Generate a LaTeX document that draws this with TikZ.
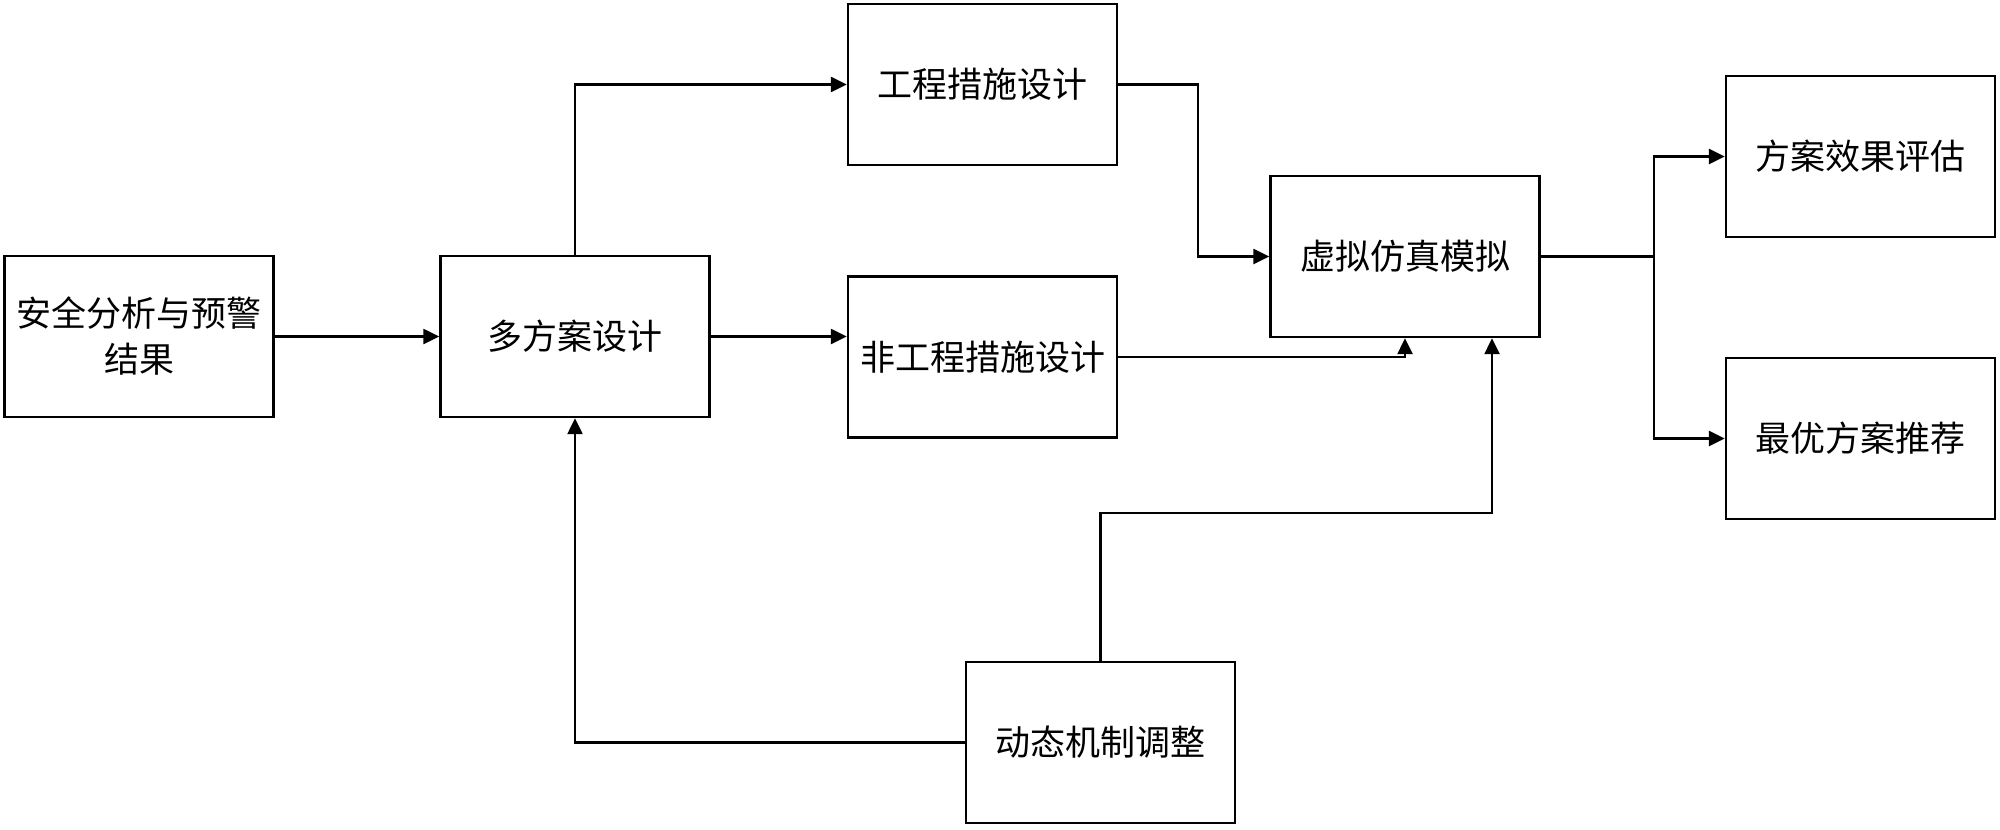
\documentclass[tikz,border=0pt]{standalone}
\usepackage{fontspec}
\setmainfont{Noto Sans CJK SC}
\usetikzlibrary{arrows.meta,calc}
\begin{document}
\begin{tikzpicture}[x=0.5pt,y=-0.5pt,
  box/.style={draw,line width=1.2pt,minimum width=134.5pt,minimum height=80.5pt,inner sep=0pt,align=center,font=\fontsize{17.5pt}{23pt}\selectfont},
  conn/.style={line width=1.2pt},
  arr/.style={line width=1.2pt,-{Triangle[length=8pt,width=7.5pt]}}]
\useasboundingbox (0,0) rectangle (2000,829);
\node[box] (b1) at (139,336.5) {安全分析与预警\\结果};
\node[box] (b2) at (575,336.5) {多方案设计};
\node[box] (b3) at (982.5,84.5) {工程措施设计};
\node[box] (b4) at (982.5,357) {非工程措施设计};
\node[box] (b5) at (1405,256.5) {虚拟仿真模拟};
\node[box] (b6) at (1860.5,156.5) {方案效果评估};
\node[box] (b7) at (1860.5,438.5) {最优方案推荐};
\node[box] (b8) at (1100.5,742.5) {动态机制调整};
\draw[arr] (b1) -- (b2);
\draw[arr] (b2.north) |- (b3.west);
\draw[arr] (b2.east) -- (b2.east -| b4.west);
\draw[arr] (b3.east) -- ++(80,0) |- (b5.west);
\draw[arr] (b4.east) -| (b5.south);
\draw[arr] (b8.north) -- ++(0,-148) -| ([xshift=43.5pt]b5.south);
\draw[arr] (b8.west) -| (b2.south);
\coordinate (j) at ($(b5.east)+(113,0)$);
\draw[conn] (b5.east) -- (j);
\draw[arr] (j) |- (b6.west);
\draw[arr] (j) |- (b7.west);
\end{tikzpicture}
\end{document}
